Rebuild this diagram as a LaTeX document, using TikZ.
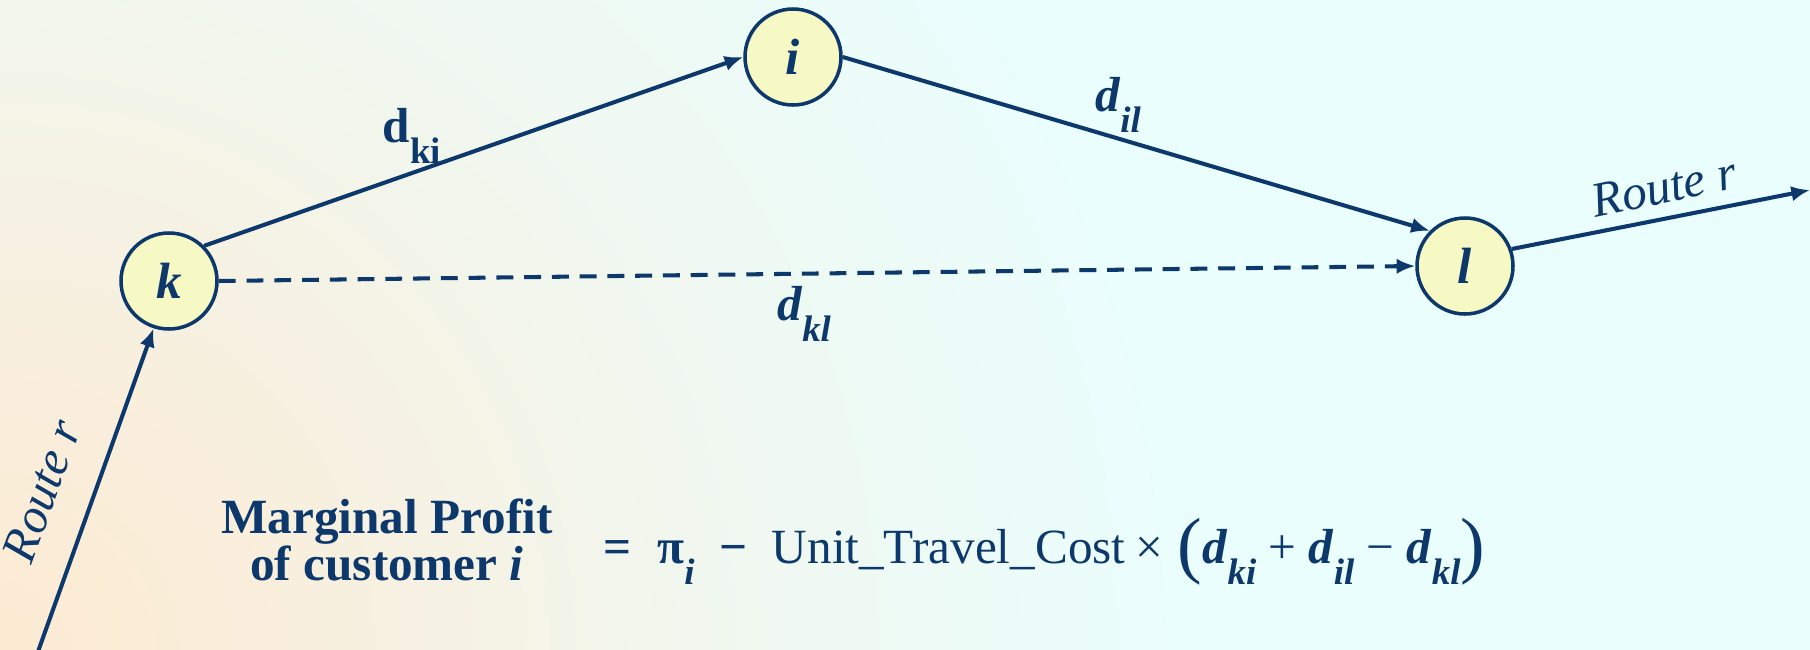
\documentclass[tikz,border=0pt]{standalone}
\usepackage{fontspec}
\setmainfont{Liberation Serif}
\usetikzlibrary{arrows.meta}
\definecolor{navy}{RGB}{12,56,108}
\definecolor{custfill}{RGB}{246,249,196}
\definecolor{peach}{RGB}{253,234,210}
\definecolor{aqua}{RGB}{234,254,254}
\pgfdeclareradialshading{glow}{\pgfpoint{0cm}{0cm}}{color(0cm)=(peach); color(3cm)=(peach!75!aqua); color(7cm)=(peach!35!aqua); color(12cm)=(aqua); color(22cm)=(aqua)}
\newcommand{\dsub}[1]{\raisebox{-0.42em}{\fontsize{10.5}{10.5}\selectfont #1}}
\newcommand{\bigparen}[1]{\raisebox{-0.12em}{\fontsize{21}{21}\selectfont #1}}
\newcommand{\bi}[1]{\textbf{\textit{#1}}}

\begin{document}
\begin{tikzpicture}[every node/.style={font=\fontsize{14}{16.5}\selectfont, text=navy},
		cust/.style={circle, draw=navy, line width=1pt, fill=custfill, minimum size=0.96cm, inner sep=0pt, font=\fontsize{14.5}{16}\selectfont\bfseries\itshape},
		link/.style={draw=navy, line width=1.15pt, -{Latex[length=5.3pt,width=4.4pt]}},
		shortcut/.style={link, dash pattern=on 4.8pt off 3.1pt}]
				\useasboundingbox (0,0) rectangle (18.10,-6.49);
				\begin{scope}
					\clip (0,0) rectangle (18.10,-6.49);
					\node[inner sep=0pt] (bg) at (0,-6.49) {\pgfuseshading{glow}};
				\end{scope}
				
				\node[cust] (k) at (1.69,-2.81) {k};
				\node[cust] (i) at (7.93,-0.57) {i};
				\node[cust] (l) at (14.65,-2.66) {l};
				
				\coordinate (in) at (0.35,-6.60);
				\coordinate (out) at (18.10,-1.90);
				
				\draw[link] (in) -- (k.252);
				\draw[link] (k.north east) -- (i.west);
				\draw[link] (i.east) -- (l.north west);
				\draw[shortcut] (k.east) -- (l.west);
				\draw[link] (l.20) -- (out);
				
				\node (dki) at (4.12,-1.36) {\textbf{d}\dsub{\textbf{ki}}};
				\node (dil) at (11.18,-1.05) {\bi{d}\dsub{\bi{il}}};
				\node (dkl) at (8.04,-3.14) {\bi{d}\dsub{\bi{kl}}};
				\node[rotate=70] (rin) at (0.42,-4.91) {\textit{Route r}};
				\node[rotate=12] (rout) at (16.64,-1.87) {\textit{Route r}};
				
				\node[align=center, font=\fontsize{14}{13.4}\selectfont\bfseries] (lhs) at (3.87,-5.40) {Marginal Profit\\of customer \textit{i}};
				\node (eq) at (6.18,-5.52) {\textbf{=}};
				\node[anchor=west] (rhs) at (6.45,-5.52) {\textbf{π}\dsub{\bi{i}}\hspace{0.5em}\textbf{−}\hspace{0.5em}Unit\_Travel\_Cost\hspace{0.2em}×\hspace{0.3em}\bigparen{(}\bi{d}\dsub{\bi{ki}}\hspace{0.25em}+\hspace{0.25em}\bi{d}\dsub{\bi{il}}\hspace{0.25em}−\hspace{0.25em}\bi{d}\dsub{\bi{kl}}\bigparen{)}};
			\end{tikzpicture}
\end{document}
